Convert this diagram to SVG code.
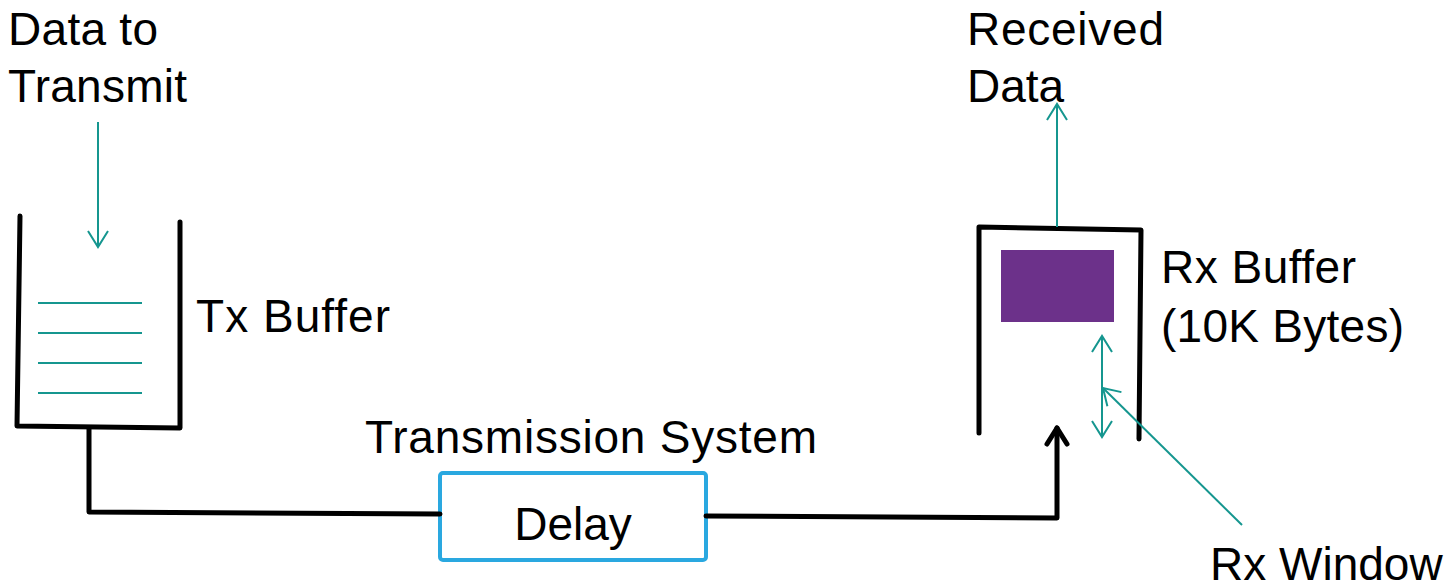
<svg xmlns="http://www.w3.org/2000/svg" width="1451" height="584" viewBox="0 0 1451 584">
<style>
text{font-family:"Liberation Sans",Arial,sans-serif;font-size:46px;fill:#000}
.blk{fill:none;stroke:#000;stroke-width:5;stroke-linejoin:round;stroke-linecap:round}
.teal{fill:none;stroke:#15968F;stroke-width:2}
</style>
<defs>
<marker id="tv" markerUnits="userSpaceOnUse" markerWidth="24" markerHeight="24" viewBox="-18 -12 20 24" refX="0" refY="0" orient="auto-start-reverse">
<path d="M-16,-10 L0,0 L-16,10" fill="none" stroke="#15968F" stroke-width="2"/>
</marker>
<marker id="bv" markerUnits="userSpaceOnUse" markerWidth="28" markerHeight="28" viewBox="-20 -14 24 28" refX="0" refY="0" orient="auto">
<path d="M-16,-10 L0,0 L-16,10" fill="none" stroke="#000" stroke-width="5" stroke-linejoin="round" stroke-linecap="round"/>
</marker>
</defs>
<rect width="1451" height="584" fill="#fff"/>
<g id="tx-buffer">
<polyline class="blk" points="20,216 17,426 180,428 180,222"/>
<line class="teal" x1="38" y1="303" x2="142" y2="303"/>
<line class="teal" x1="38" y1="333" x2="142" y2="333"/>
<line class="teal" x1="38" y1="363" x2="142" y2="363"/>
<line class="teal" x1="38" y1="393" x2="142" y2="393"/>
<text x="196" y="332" textLength="194" lengthAdjust="spacing">Tx Buffer</text>
</g>
<g id="data-to-transmit">
<text x="8" y="45" textLength="150" lengthAdjust="spacing">Data to</text>
<text x="8" y="102" textLength="179" lengthAdjust="spacing">Transmit</text>
</g>
<g id="delay">
<rect x="440" y="473" width="266" height="87" rx="3" fill="#fff" stroke="#2AA8E0" stroke-width="4"/>
<text x="573" y="540" text-anchor="middle">Delay</text>
<text x="365" y="453" textLength="452" lengthAdjust="spacing">Transmission System</text>
</g>
<g id="rx-buffer">
<polyline class="blk" points="979,433 979,227 1141,230 1139,439"/>
<rect x="1001" y="250" width="113" height="72" fill="#6C318A"/>
<text x="1161" y="283" textLength="195" lengthAdjust="spacing">Rx Buffer</text>
<text x="1161" y="342" textLength="243" lengthAdjust="spacing">(10K Bytes)</text>
</g>
<g id="received-data">
<text x="967" y="45" textLength="197" lengthAdjust="spacing">Received</text>
<text x="967" y="102">Data</text>
</g>
<g id="rx-window">
<text x="1210" y="580">Rx Window</text>
</g>
<g id="connectors">
<line class="teal" x1="98" y1="122" x2="98" y2="247" marker-end="url(#tv)"/>
<polyline class="blk" points="89,428 89,512 440,514"/>
<polyline class="blk" points="706,516 1057,518 1057,428" marker-end="url(#bv)"/>
<line class="teal" x1="1057" y1="227" x2="1057" y2="104" marker-end="url(#tv)"/>
<line class="teal" x1="1102" y1="336" x2="1102" y2="437" marker-start="url(#tv)" marker-end="url(#tv)"/>
<line class="teal" x1="1242" y1="525" x2="1103" y2="388" marker-end="url(#tv)"/>
</g>
</svg>
